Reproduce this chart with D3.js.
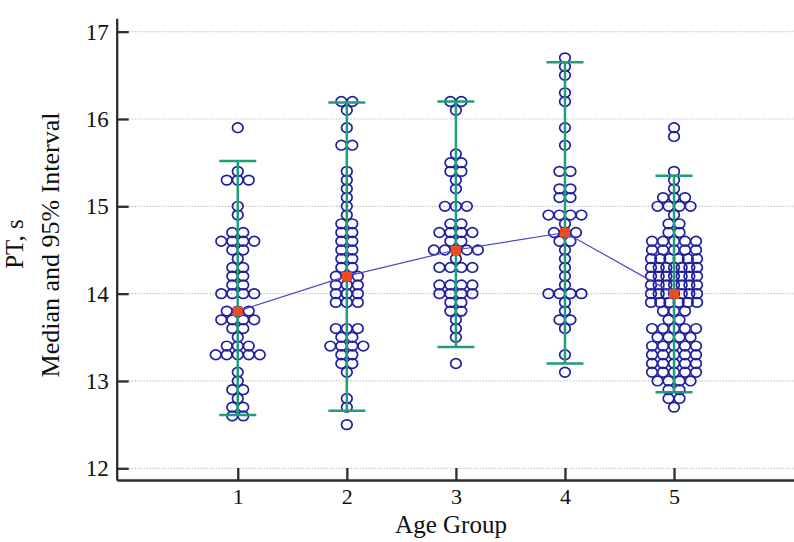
<!DOCTYPE html>
<html><head><meta charset="utf-8">
<script src="https://cdn.jsdelivr.net/npm/d3@7"></script>
<style>
html,body{margin:0;padding:0;background:#fff;}
svg{display:block;}
</style></head>
<body>
<svg id="chart" width="794" height="542"></svg>
<script>
// ---- data ----
const categories = [1, 2, 3, 4, 5];
const yTicks = [12, 13, 14, 15, 16, 17];
const medians = [13.8, 14.2, 14.5, 14.7, 14.0];
const ciLow  = [12.61, 12.66, 13.39, 13.20, 12.87];
const ciHigh = [15.52, 16.19, 16.20, 16.65, 15.35];

const g1Values = [15.9,15.4,15.3,15.0,14.9,14.7,14.6,14.5,14.4,14.3,14.2,14.1,14.0,13.8,13.7,13.6,13.5,13.4,13.3,13.1,13.0,12.9,12.8,12.7,12.6];
const g1Counts = [1,1,3,1,1,2,4,2,1,2,2,2,4,3,4,2,1,3,5,1,1,2,1,2,2];

const g2Values = [16.2,16.1,15.9,15.7,15.4,15.3,15.2,15.1,15.0,14.9,14.8,14.7,14.6,14.5,14.4,14.3,14.2,14.1,14.0,13.9,13.6,13.5,13.4,13.3,13.2,13.1,12.8,12.7,12.5];
const g2Counts = [2,1,1,2,1,1,1,1,1,1,2,2,2,2,2,2,3,3,3,3,3,2,4,2,2,1,1,1,1];

const g3Values = [16.2,16.1,15.6,15.5,15.4,15.3,15.2,15.0,14.8,14.7,14.6,14.5,14.4,14.3,14.1,14.0,13.9,13.8,13.7,13.6,13.5,13.2];
const g3Counts = [2,1,1,2,2,1,1,3,2,4,2,5,1,4,4,4,2,2,1,1,1,1];

const g4Values = [16.7,16.6,16.5,16.3,16.2,15.9,15.7,15.4,15.2,15.1,14.9,14.8,14.7,14.6,14.5,14.4,14.3,14.2,14.1,14.0,13.9,13.8,13.7,13.6,13.3,13.1];
const g4Counts = [1,1,1,1,1,1,1,2,2,2,4,1,3,2,1,1,1,1,1,4,1,1,2,1,1,1];

const g5Values = [15.9,15.8,15.4,15.3,15.2,15.1,15.0,14.9,14.8,14.7,14.6,14.5,14.4,14.3,14.2,14.1,14.0,13.9,13.8,13.7,13.6,13.5,13.4,13.3,13.2,13.1,13.0,12.9,12.8,12.7];
const g5Counts = [1,1,1,1,1,3,4,1,2,2,5,5,6,7,7,7,7,6,3,2,5,4,5,5,5,5,4,2,2,1];

const groupValues = [g1Values, g2Values, g3Values, g4Values, g5Values];
const groupCounts = [g1Counts, g2Counts, g3Counts, g4Counts, g5Counts];

// ---- chart ----
const W = 794, H = 542;
const svg = d3.select('#chart');
const x = d3.scaleLinear().domain([-0.11, 6.1]).range([116.7, 794]);
const y = d3.scaleLinear().domain([11.866, 17.153]).range([480, 18.3]);

const blue = '#1f1f9e', green = '#1f9e78', red = '#ef4b23', axisCol = '#2a2f2f';
const serif = '"Liberation Serif", serif';

// gridlines
svg.append('g').selectAll('line').data(yTicks).join('line')
  .attr('x1', x.range()[0]).attr('x2', W)
  .attr('y1', d => y(d)).attr('y2', d => y(d))
  .attr('stroke', '#c4c4c4').attr('stroke-width', 1.2)
  .attr('stroke-dasharray', '1.5,1.5');

// dots
const pts = [];
const maxSpan = 46, step = 11;
groupValues.forEach((vals, gi) => {
  vals.forEach((v, ri) => {
    const n = groupCounts[gi][ri];
    const s = n > 1 ? Math.min(step, maxSpan / (n - 1)) : 0;
    for (let k = 0; k < n; k++) pts.push({c: categories[gi], v, off: (k - (n - 1) / 2) * s});
  });
});
svg.append('g').selectAll('ellipse').data(pts).join('ellipse')
  .attr('cx', d => x(d.c) + d.off).attr('cy', d => y(d.v))
  .attr('rx', 5.3).attr('ry', 4.8)
  .attr('fill', 'none').attr('stroke', blue).attr('stroke-width', 1.7);

// error bars
const eb = svg.append('g');
categories.forEach((c, i) => {
  eb.append('line').attr('x1', x(c)).attr('x2', x(c)).attr('y1', y(ciLow[i])).attr('y2', y(ciHigh[i]))
    .attr('stroke', green).attr('stroke-width', 2.5);
  [ciLow[i], ciHigh[i]].forEach(v => {
    eb.append('line').attr('x1', x(c) - 18.5).attr('x2', x(c) + 18.5).attr('y1', y(v)).attr('y2', y(v))
      .attr('stroke', green).attr('stroke-width', 2.5);
  });
});

// median line
const medData = categories.map((c, i) => ({c, m: medians[i]}));
svg.append('path').datum(medData)
  .attr('d', d3.line().x(d => x(d.c)).y(d => y(d.m)))
  .attr('fill', 'none').attr('stroke', '#4848c8').attr('stroke-width', 1.2);
svg.append('g').selectAll('rect').data(medData).join('rect')
  .attr('x', d => x(d.c) - 5).attr('y', d => y(d.m) - 4.5)
  .attr('width', 10).attr('height', 9.5).attr('fill', red);

// axes
const yAxis = svg.append('g').attr('transform', `translate(${x.range()[0]},0)`)
  .call(d3.axisLeft(y).tickValues(yTicks).tickFormat(d3.format('d'))
    .tickSizeInner(-12).tickSizeOuter(0).tickPadding(8));
const xAxis = svg.append('g').attr('transform', `translate(0,${y.range()[0]})`)
  .call(d3.axisBottom(x).tickValues(categories).tickFormat(d3.format('d'))
    .tickSizeInner(-12).tickSizeOuter(0).tickPadding(8));
[yAxis, xAxis].forEach(a => {
  a.selectAll('path.domain').attr('stroke', axisCol).attr('stroke-width', 2.3);
  a.selectAll('.tick line').attr('stroke', axisCol).attr('stroke-width', 2.3);
  a.selectAll('.tick text').attr('fill', '#111').style('font-family', serif);
});
yAxis.selectAll('.tick text').style('font-size', '23px');
xAxis.selectAll('.tick text').style('font-size', '22px');

// titles
svg.append('text').attr('x', 451).attr('y', 533)
  .attr('text-anchor', 'middle')
  .style('font-family', serif).style('font-size', '25px')
  .attr('fill', '#111').text('Age Group');
svg.append('text').attr('transform', 'translate(59,245) rotate(-90)')
  .attr('text-anchor', 'middle')
  .style('font-family', serif).style('font-size', '26px')
  .attr('fill', '#111').text('Median and 95% Interval');
svg.append('text').attr('transform', 'translate(23,244) rotate(-90)')
  .attr('text-anchor', 'middle')
  .style('font-family', serif).style('font-size', '25px')
  .attr('fill', '#111').text('PT, s');
</script>
</body></html>
